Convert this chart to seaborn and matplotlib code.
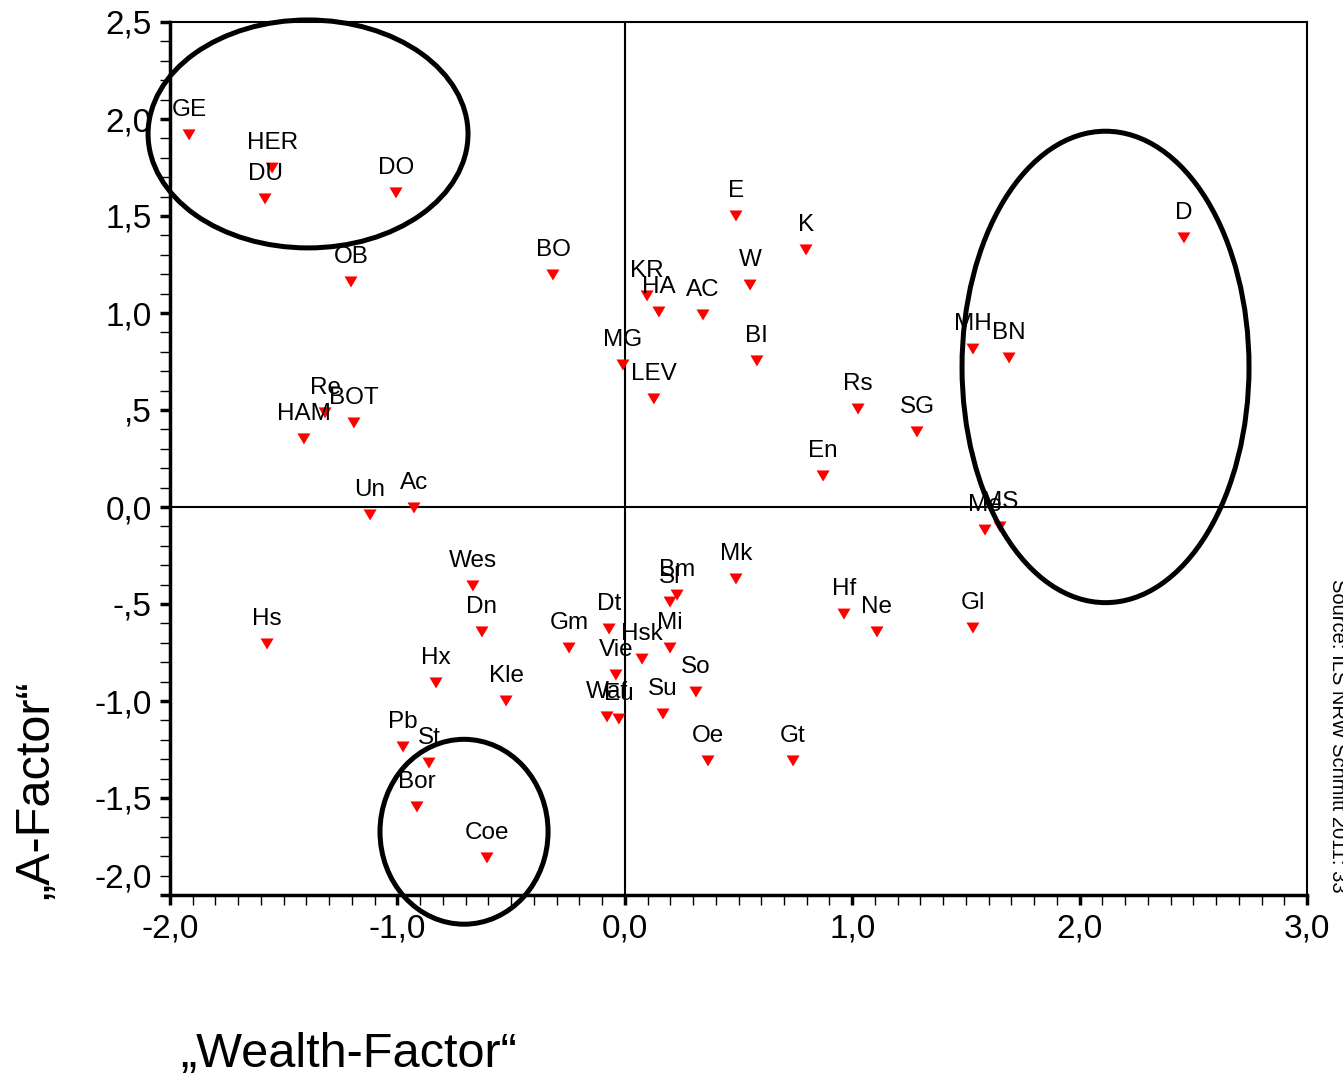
import matplotlib
matplotlib.use("Agg")
import matplotlib.pyplot as plt
import seaborn as sns
import pandas as pd
from matplotlib.patches import Ellipse
from matplotlib.ticker import MultipleLocator

# ---- data -------------------------------------------------------------
names = ["GE", "HER", "DU", "DO", "OB", "BO", "KR", "HA", "AC", "E", "K", "W",
         "BI", "MG", "LEV", "Rs", "SG", "En", "MH", "BN", "D", "Re", "BOT",
         "HAM", "Un", "Ac", "Me", "MS", "Wes", "Dn", "Gm", "Dt", "Bm", "Sl",
         "Mi", "Hsk", "Vie", "So", "Su", "Waf", "Eu", "Kle", "Hx", "Hs", "Pb",
         "St", "Bor", "Coe", "Mk", "Hf", "Ne", "Gl", "Oe", "Gt"]
wealth = [-1.916, -1.551, -1.582, -1.006, -1.204, -0.316, 0.098, 0.150, 0.344,
          0.489, 0.797, 0.551, 0.581, -0.008, 0.128, 1.026, 1.285, 0.872,
          1.531, 1.690, 2.459, -1.318, -1.191, -1.411, -1.120, -0.927, 1.584,
          1.650, -0.668, -0.628, -0.245, -0.069, 0.230, 0.199, 0.199, 0.076,
          -0.039, 0.313, 0.168, -0.078, -0.026, -0.522, -0.830, -1.573,
          -0.975, -0.861, -0.914, -0.606, 0.489, 0.964, 1.109, 1.531, 0.366,
          0.740]
afactor = [1.918, 1.747, 1.588, 1.619, 1.160, 1.196, 1.088, 1.005, 0.990,
           1.500, 1.325, 1.144, 0.753, 0.732, 0.557, 0.505, 0.387, 0.160,
           0.814, 0.768, 1.387, 0.485, 0.433, 0.351, -0.041, -0.005, -0.119,
           -0.103, -0.407, -0.644, -0.727, -0.629, -0.454, -0.490, -0.727,
           -0.784, -0.866, -0.954, -1.067, -1.082, -1.093, -1.000, -0.907,
           -0.706, -1.237, -1.320, -1.546, -1.809, -0.371, -0.552, -0.644,
           -0.624, -1.309, -1.309]

x_ticks = [-2.0, -1.0, 0.0, 1.0, 2.0, 3.0]
x_tick_labels = ["-2,0", "-1,0", "0,0", "1,0", "2,0", "3,0"]
y_ticks = [-2.0, -1.5, -1.0, -0.5, 0.0, 0.5, 1.0, 1.5, 2.0, 2.5]
y_tick_labels = ["-2,0", "-1,5", "-1,0", "-,5", "0,0", ",5", "1,0", "1,5",
                 "2,0", "2,5"]

# cluster ellipses (centre x, centre y, width, height) in data units
ell_cx = [-1.393, 2.114, -0.707]
ell_cy = [1.923, 0.722, -1.674]
ell_w = [1.407, 1.262, 0.739]
ell_h = [1.175, 2.43, 0.953]

x_title = "\u201eWealth-Factor\u201c"
y_title = "\u201eA-Factor\u201c"
source = "Source: ILS NRW Schmitt 2011: 33"

df = pd.DataFrame({"name": names, "wealth": wealth, "afactor": afactor})

# ---- style -------------------------------------------------------------
sns.set_theme(style="white")
plt.rcParams["font.family"] = ["Liberation Sans", "DejaVu Sans"]

W, H = 1343, 1075
fig = plt.figure(figsize=(W / 100, H / 100), dpi=100)
ax = fig.add_axes([170 / W, 1 - 895 / H, 1137 / W, 873 / H])

tri = [(-1.0, 0.846), (1.0, 0.846), (0.0, -0.846)]
sns.scatterplot(data=df, x="wealth", y="afactor", marker=tri, s=88,
                color="#ff0000", edgecolor="none", linewidth=0, ax=ax,
                zorder=3)

ax.axhline(0, color="black", lw=1.5, zorder=1)
ax.axvline(0, color="black", lw=1.5, zorder=1)

for n, xv, yv in zip(df["name"], df["wealth"], df["afactor"]):
    ax.annotate(n, (xv, yv), xytext=(0, 13.5), textcoords="offset points",
                ha="center", va="baseline", fontsize=17.5, color="black",
                zorder=4)

for cx, cy, w, h in zip(ell_cx, ell_cy, ell_w, ell_h):
    ax.add_patch(Ellipse((cx, cy), w, h, fill=False, edgecolor="black",
                         lw=3.6, clip_on=False, zorder=5))

ax.set_xlim(-2.0, 3.0)
ax.set_ylim(-2.0, 2.5)
ax.set_xticks(x_ticks, x_tick_labels)
ax.set_yticks(y_ticks, y_tick_labels)
ax.xaxis.set_minor_locator(MultipleLocator(0.1))
ax.yaxis.set_minor_locator(MultipleLocator(0.1))
ax.tick_params(which="both", bottom=True, left=True, top=False, right=False,
               direction="out", color="black")
ax.tick_params(which="major", length=7, width=2.5, labelsize=24, pad=6,
               labelcolor="black")
ax.tick_params(which="minor", length=7, width=1)
ax.get_yticklabels()[0].set_verticalalignment("bottom")
ax.set_xlabel("")
ax.set_ylabel("")
ax.grid(False)

for side, lw in (("left", 2.5), ("bottom", 2.5), ("top", 1.5), ("right", 1.5)):
    ax.spines[side].set_visible(True)
    ax.spines[side].set_color("black")
    ax.spines[side].set_linewidth(lw)

fig.text(180 / W, 1 - 1067 / H, x_title, ha="left", va="baseline",
         fontsize=35, color="black")
fig.text(36 / W, 1 - 790 / H, y_title, ha="center", va="center",
         rotation=90, fontsize=35, color="black")
fig.text(1338 / W, 1 - 893 / H, source, ha="center", va="bottom",
         rotation=270, fontsize=14.5, color="black")

fig.savefig("out.png", dpi=100)
